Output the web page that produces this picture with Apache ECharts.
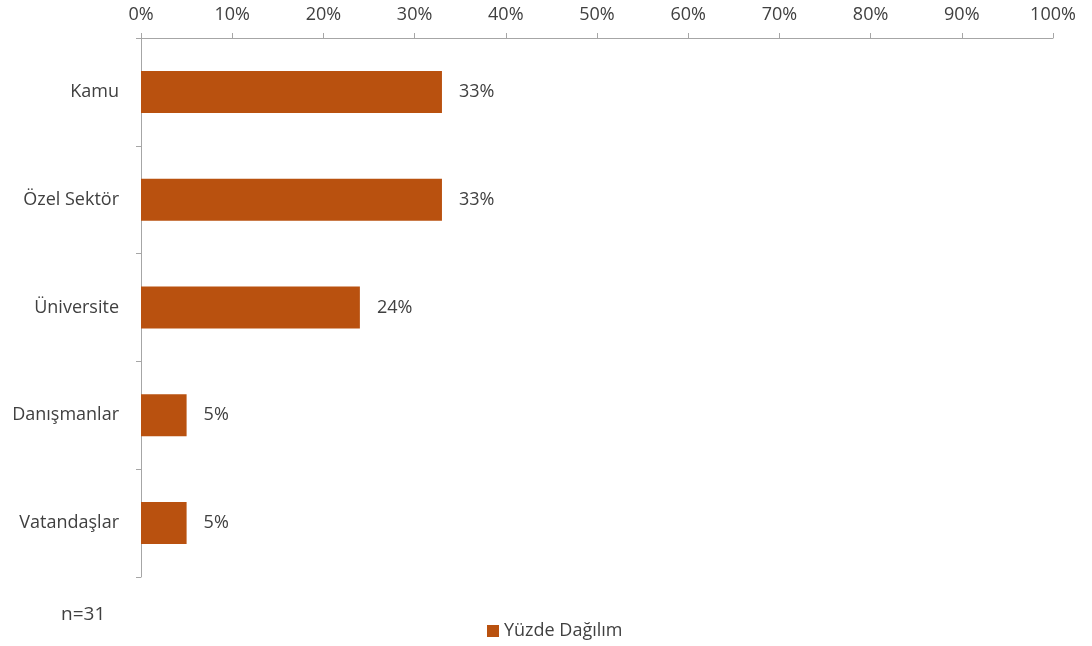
<!DOCTYPE html>
<html>
<head>
<meta charset="utf-8">
<script src="https://cdn.jsdelivr.net/npm/echarts@6/dist/echarts.min.js"></script>
<style>
	html, body { margin: 0; padding: 0; background: #fff; }
	#chart { width: 1092px; height: 646px; }
</style>
</head>
<body>
<div id="chart"></div>
<script>
var categories = ['Kamu', 'Özel Sektör', 'Üniversite', 'Danışmanlar', 'Vatandaşlar'];
var values = [33, 33, 24, 5, 5];
var seriesName = 'Yüzde Dağılım';
var sampleNote = 'n=31';

var font = '"Open Sans", "Noto Sans", sans-serif';
var textColor = '#404040';
var axisColor = '#a6a6a6';
var barColor = '#b9510f';

var myChart = echarts.init(document.getElementById('chart'));
var option = {
	animation: false,
	textStyle: { fontFamily: font },
	grid: {
		left: 141,
		right: 39,
		top: 38,
		bottom: 69,
		containLabel: false
	},
	legend: {
		data: [seriesName],
		top: 617,
		left: 482,
		itemWidth: 12,
		itemHeight: 12,
		itemGap: 4,
		icon: 'rect',
		textStyle: { color: textColor, fontSize: 18, fontFamily: font }
	},
	graphic: [{
		type: 'text',
		left: 61,
		top: 605,
		style: { text: sampleNote, fill: textColor, fontSize: 19, fontFamily: font }
	}],
	xAxis: {
		type: 'value',
		position: 'top',
		min: 0,
		max: 100,
		interval: 10,
		axisLine: { show: true, lineStyle: { color: axisColor } },
		axisTick: { show: true, length: 5, lineStyle: { color: axisColor } },
		splitLine: { show: false },
		axisLabel: {
			color: textColor,
			fontSize: 18,
			margin: 14,
			formatter: '{value}%'
		}
	},
	yAxis: {
		type: 'category',
		inverse: true,
		data: categories,
		axisLine: { show: true, lineStyle: { color: axisColor } },
		axisTick: { show: true, length: 5, lineStyle: { color: axisColor } },
		axisLabel: { color: textColor, fontSize: 18, margin: 22 }
	},
	series: [{
		name: seriesName,
		type: 'bar',
		data: values,
		barWidth: 42,
		itemStyle: { color: barColor },
		label: {
			show: true,
			position: 'right',
			distance: 17,
			color: textColor,
			fontSize: 18,
			formatter: '{c}%'
		}
	}]
};
myChart.setOption(option);
</script>
</body>
</html>
